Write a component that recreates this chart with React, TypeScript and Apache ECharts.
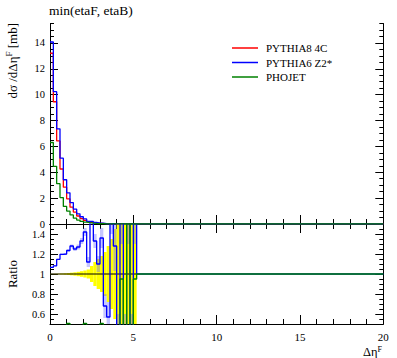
import React, { useEffect, useRef } from "react";
import * as echarts from "echarts";

// ---------- data ----------
const BIN_WIDTH = 0.2;
const X_MIN = 0;
const X_MAX = 20;

const seriesNames = ["PYTHIA8 4C", "PYTHIA6 Z2*", "PHOJET"];
const seriesColors = ["#ff0000", "#0000ff", "#008000"];

// dsigma/dDeltaEta per 0.2-wide bin, from 0 to 5.2 (zero beyond)
const pythia8 = [13.2, 9.45, 6.42, 4.25, 2.85, 1.95, 1.3, 0.92, 0.62, 0.42, 0.28, 0.19, 0.13, 0.09, 0.06, 0.045, 0.032, 0.022, 0.015, 0.011, 0.008, 0.005, 0.004, 0.003, 0.002, 0.001];
const pythia6 = [14.07, 10.23, 7.36, 5.09, 3.42, 2.41, 1.66, 1.15, 0.79, 0.56, 0.39, 0.21, 0.2, 0.12, 0.07, 0.06, 0.02, 0.013, 0.024, 0.014, 0.004, 0.008, 0.001, 0.005, 0.001, 0.002];
const phojet = [6.3, 4.46, 3.12, 2.04, 1.36, 1.0, 0.7, 0.45, 0.3, 0.2, 0.14, 0.1, 0.07, 0.05, 0.035, 0.025, 0.015, 0.01, 0.006, 0.004, 0.007, 0.005, 0.001, 0.004, 0.001, 0.002];

// ratios to PYTHIA8 4C
const pythia6Ratio = [1.066, 1.082, 1.147, 1.197, 1.2, 1.235, 1.28, 1.25, 1.27, 1.33, 1.42, 1.12, 1.6, 1.33, 1.1, 1.36, 0.68, 0.57, 1.6, 1.28, 0.3, 1.6, 0.3, 1.6, 0.3, 1.6];
const phojetRatio = [0.47, 0.46, 0.48, 0.47, 0.48, 0.505, 0.48, 0.47, 0.46, 0.48, 0.505, 0.48, 0.46, 0.45, 0.47, 0.505, 0.44, 0.45, 0.3, 0.3, 0.3, 0.95, 0.3, 1.6, 0.3, 0.95];
const tailRatio = 1;

// half-widths of the uncertainty bands in the ratio panel
const refBandHalf = [0.002, 0.003, 0.004, 0.006, 0.008, 0.01, 0.013, 0.017, 0.022, 0.028, 0.035, 0.045, 0.08, 0.12, 0.15, 0.18, 0.22, 0.28, 0.35, 0.45, 0.7, 1, 1, 1, 1, 1];
const p6BandHalf = [0.004, 0.005, 0.006, 0.008, 0.01, 0.012, 0.015, 0.02, 0.025, 0.03, 0.04, 0.05, 0.06, 0.07, 0.08, 0.1, 0.12, 0.15, 0.2, 0.25, 0.3, 0.3, 0.3, 0.3, 0.3, 0.3];

// axes
const xTicks = [0, 5, 10, 15, 20];
const yMainTicks = [0, 2, 4, 6, 8, 10, 12, 14];
const yMainMax = 15.5;
const yRatioTicks = [0.6, 0.8, 1, 1.2, 1.4];
const yRatioMin = 0.5;
const yRatioMax = 1.5;

// ---------- helpers ----------
function stepData(vals: number[], tail: number): number[][] {
  const pts = vals.map((v, i) => [i * BIN_WIDTH, v]);
  pts.push([vals.length * BIN_WIDTH, tail]);
  pts.push([X_MAX, tail]);
  return pts;
}

function bandData(center: number[] | null, half: number[]): number[][] {
  return half.map((h, i) => {
    const c = center ? center[i] : 1;
    return [i * BIN_WIDTH, (i + 1) * BIN_WIDTH, c - h, c + h];
  });
}

function bandSeries(data: number[][], color: string, xi: number, yi: number, z: number) {
  return {
    type: "custom",
    xAxisIndex: xi,
    yAxisIndex: yi,
    silent: true,
    z,
    data,
    encode: { x: [0, 1], y: [2, 3] },
    renderItem: (params: any, api: any) => {
      const p0 = api.coord([api.value(0), api.value(3)]);
      const p1 = api.coord([api.value(1), api.value(2)]);
      const cs = params.coordSys;
      const shape = echarts.graphic.clipRectByRect(
        { x: p0[0], y: p0[1], width: p1[0] - p0[0], height: p1[1] - p0[1] },
        { x: cs.x, y: cs.y, width: cs.width, height: cs.height }
      );
      return shape ? { type: "rect", shape, style: { fill: color } } : null;
    },
  };
}

const FONT = "Liberation Serif";
const BLACK = "#000";

function xAxis(grid: number, pos: "top" | "bottom", labels: boolean) {
  return {
    type: "value",
    gridIndex: grid,
    position: pos,
    min: X_MIN,
    max: X_MAX,
    interval: 5,
    axisLine: { show: true, lineStyle: { color: BLACK, width: 1 } },
    axisTick: { show: true, inside: true, length: 9, lineStyle: { color: BLACK, width: 1 } },
    minorTick: { show: true, splitNumber: 5, length: 5, lineStyle: { color: BLACK, width: 1 } },
    splitLine: { show: false },
    axisLabel: labels
      ? { show: true, margin: 7, fontSize: 11, color: BLACK, fontFamily: FONT, customValues: xTicks }
      : { show: false },
  };
}

function yMajor(grid: number, pos: "left" | "right", min: number, max: number, ticks: number[], labels: boolean) {
  return {
    type: "value",
    gridIndex: grid,
    position: pos,
    min,
    max,
    axisLine: { show: true, lineStyle: { color: BLACK, width: 1 } },
    axisTick: { show: true, inside: true, length: 8, customValues: ticks, lineStyle: { color: BLACK, width: 1 } },
    splitLine: { show: false },
    axisLabel: labels
      ? { show: true, margin: 5, fontSize: 10.5, lineHeight: 9, color: BLACK, fontFamily: FONT, customValues: ticks }
      : { show: false },
  };
}

function yMinor(grid: number, pos: "left" | "right", min: number, max: number, step: number) {
  return {
    type: "value",
    gridIndex: grid,
    position: pos,
    min,
    max,
    interval: step,
    axisLine: { show: false },
    axisTick: { show: true, inside: true, length: 4, lineStyle: { color: BLACK, width: 1 } },
    splitLine: { show: false },
    axisLabel: { show: false },
  };
}

function stepLine(name: string, color: string, data: number[][], xi: number, yi: number, z: number) {
  return {
    type: "line",
    name,
    xAxisIndex: xi,
    yAxisIndex: yi,
    data,
    step: "end",
    showSymbol: false,
    symbol: "none",
    clip: true,
    z,
    lineStyle: { color, width: 1.3 },
    itemStyle: { color },
  };
}

export default function App() {
  const ref = useRef<HTMLDivElement>(null);

  useEffect(() => {
    if (!ref.current) return;
    const chart = echarts.init(ref.current, undefined, { renderer: "svg" });

    const dataEnd = pythia8.length * BIN_WIDTH;

    const option: any = {
      animation: false,
      backgroundColor: "#ffffff",
      textStyle: { fontFamily: FONT, color: BLACK },
      grid: [
        { left: 50, top: 23.5, width: 333.3, height: 200.5, show: false },
        { left: 50, top: 224, width: 333.3, height: 100, show: false },
      ],
      xAxis: [xAxis(0, "bottom", false), xAxis(0, "top", false), xAxis(1, "bottom", true), xAxis(1, "top", false)],
      yAxis: [
        yMajor(0, "left", 0, yMainMax, yMainTicks, true),
        yMinor(0, "left", 0, yMainMax, 0.5),
        yMajor(0, "right", 0, yMainMax, yMainTicks, false),
        yMinor(0, "right", 0, yMainMax, 0.5),
        yMajor(1, "left", yRatioMin, yRatioMax, yRatioTicks, true),
        yMinor(1, "left", yRatioMin, yRatioMax, 0.05),
        yMajor(1, "right", yRatioMin, yRatioMax, yRatioTicks, false),
        yMinor(1, "right", yRatioMin, yRatioMax, 0.05),
      ],
      legend: {
        data: seriesNames,
        orient: "vertical",
        left: 227,
        top: 37,
        itemWidth: 26,
        itemHeight: 1.5,
        itemGap: 2.5,
        icon: "rect",
        selectedMode: false,
        textStyle: { fontSize: 11, fontFamily: FONT, color: BLACK, lineHeight: 12, padding: [0, 0, 0, 3] },
      },
      series: [
        // main panel
        stepLine(seriesNames[0], seriesColors[0], stepData(pythia8, 0), 0, 0, 3),
        stepLine(seriesNames[1], seriesColors[1], stepData(pythia6, 0), 0, 0, 4),
        stepLine(seriesNames[2], seriesColors[2], stepData(phojet, 0), 0, 0, 5),
        // ratio panel
        bandSeries(bandData(null, refBandHalf), "#ffff00", 2, 4, 1),
        bandSeries(bandData(pythia6Ratio, p6BandHalf), "rgba(110,110,255,0.4)", 2, 4, 2),
        {
          type: "line",
          xAxisIndex: 2,
          yAxisIndex: 4,
          data: [[X_MIN, 1], [dataEnd, 1]],
          showSymbol: false,
          symbol: "none",
          z: 3,
          lineStyle: { color: BLACK, width: 1 },
          silent: true,
        },
        stepLine(seriesNames[1], seriesColors[1], stepData(pythia6Ratio, tailRatio), 2, 4, 4),
        stepLine(seriesNames[2], seriesColors[2], stepData(phojetRatio, tailRatio), 2, 4, 5),
      ],
      graphic: [
        {
          type: "text",
          left: 49,
          top: 3,
          style: { text: "min(etaF, etaB)", fontSize: 13.5, fontFamily: FONT, fill: BLACK },
        },
        {
          type: "text",
          x: 12,
          y: 23,
          rotation: Math.PI / 2,
          style: {
            text: "{n|dσ /dΔη}{s|F}{n| [mb]}",
            align: "right",
            verticalAlign: "middle",
            fontFamily: FONT,
            fill: BLACK,
            rich: {
              n: { fontSize: 13, fontFamily: FONT, lineHeight: 15, fill: BLACK },
              s: { fontSize: 9, fontFamily: FONT, lineHeight: 15, verticalAlign: "top", fill: BLACK },
            },
          },
        },
        {
          type: "text",
          x: 12,
          y: 274,
          rotation: Math.PI / 2,
          style: { text: "Ratio", align: "center", verticalAlign: "middle", fontSize: 13, fontFamily: FONT, fill: BLACK },
        },
        {
          type: "text",
          x: 382,
          y: 352,
          style: {
            text: "{n|Δη}{s|F}",
            align: "right",
            verticalAlign: "middle",
            fontFamily: FONT,
            fill: BLACK,
            rich: {
              n: { fontSize: 12.5, fontFamily: FONT, lineHeight: 14, fill: BLACK },
              s: { fontSize: 8, fontFamily: FONT, lineHeight: 14, verticalAlign: "top", fill: BLACK },
            },
          },
        },
      ],
    };

    chart.setOption(option);
    return () => chart.dispose();
  }, []);

  return <div ref={ref} style={{ position: "fixed", left: 0, top: 0, width: 397, height: 358 }} />;
}
